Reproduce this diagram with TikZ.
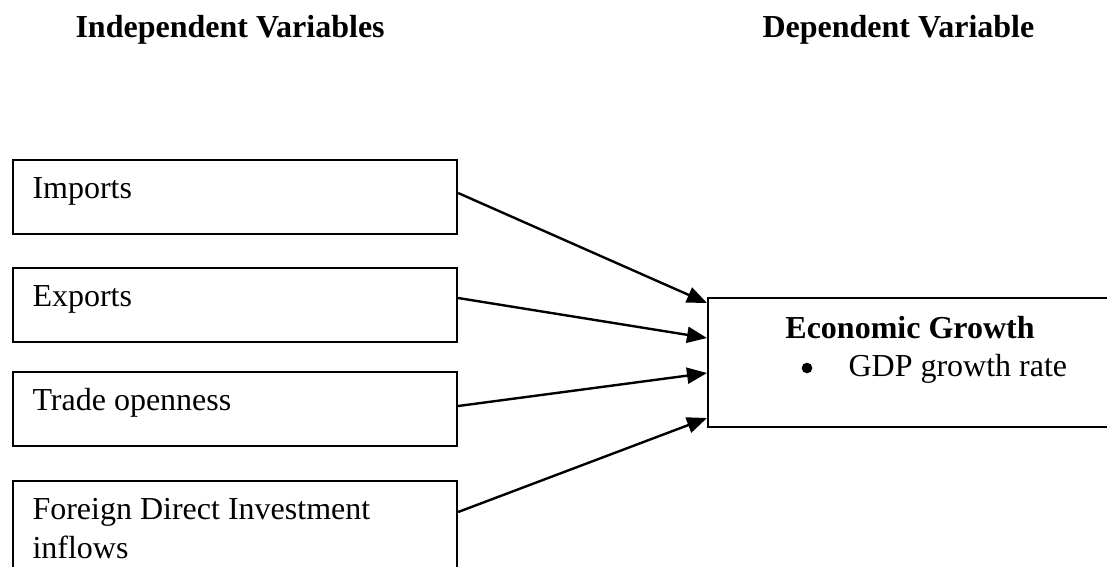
\documentclass[tikz,border=0pt]{standalone}
\usepackage{fontspec}
\setmainfont{Liberation Serif}
\usetikzlibrary{calc,arrows.meta}
\begin{document}
\begin{tikzpicture}[x=0.375pt,y=-0.375pt,
        font=\fontsize{12}{14.6}\selectfont,
        varbox/.style={draw,line width=0.8pt,anchor=north west,inner sep=0pt,minimum width=166.5pt,minimum height=27.6pt},
        vartext/.style={anchor=base west,inner sep=0pt,align=left},
        head/.style={anchor=base west,inner sep=0pt,font=\fontsize{12}{14.6}\selectfont\bfseries},
        link/.style={line width=0.9pt,-{Triangle[length=7.5pt,width=6pt]}}]
                \useasboundingbox (0,0) rectangle (1107,566);
                \clip (0,0) rectangle (1107,566);
                \node[head] (indep) at (75,37) {Independent Variables};
                \node[head] (dep) at (762,37) {Dependent Variable};
                % left boxes
                \node[varbox] (imp) at (12,159) {};
                \node[vartext] (imptxt) at (32,198) {Imports};
                \node[varbox] (exp) at (12,267) {};
                \node[vartext] (exptxt) at (32,306) {Exports};
                \node[varbox] (trd) at (12,371) {};
                \node[vartext] (trdtxt) at (32,410) {Trade openness};
                \node[varbox,minimum height=48pt] (fdi) at (12,480) {};
                \node[vartext] (fditxt) at (32,519) {Foreign Direct Investment};
                \node[vartext] (fditxtb) at (32,558) {inflows};
                % right box
                \node[varbox,minimum width=152.6pt,minimum height=48.4pt] (growth) at (707,297) {};
                \node[anchor=base,inner sep=0pt,font=\fontsize{12}{14.6}\selectfont\bfseries] (growthtxt) at (910,338) {Economic Growth};
                \node[circle,fill,inner sep=0pt,minimum size=4pt] (dot) at (807,368) {};
                \node[vartext] (gdp) at (848,376) {GDP growth rate};
                % arrows
                \draw[link] ($(imp.north east)+(0,34)$) -- ($(growth.north west)+(0,6)$);
                \draw[link] ($(exp.north east)+(0,31)$) -- ($(growth.north west)+(0,41)$);
                \draw[link] ($(trd.north east)+(0,35)$) -- ($(growth.north west)+(0,76)$);
                \draw[link] ($(fdi.north east)+(0,32)$) -- ($(growth.north west)+(0,121)$);
\end{tikzpicture}
\end{document}
